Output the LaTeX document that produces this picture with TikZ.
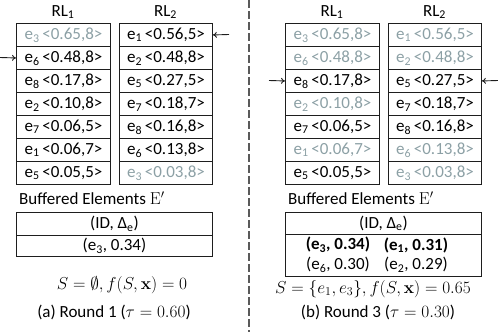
\documentclass[tikz,border=0pt]{standalone}
\usepackage[no-math]{fontspec}
\setmainfont{Carlito}
\usetikzlibrary{arrows.meta}
\definecolor{fade}{RGB}{140,160,165}
\definecolor{rulec}{RGB}{30,30,30}
\definecolor{sepc}{RGB}{90,90,90}
\newcommand\elm[2]{e\textsubscript{#1}\,<#2>}
\tikzset{
  txt/.style={font=\fontsize{17}{20}\selectfont, inner sep=0pt},
  mtxt/.style={font=\fontsize{18.5}{22}\selectfont, inner sep=0pt},
  cell/.style={txt, draw=rulec, line width=0.9pt, minimum width=94pt, minimum height=23pt, anchor=north west},
  cellb/.style={cell, minimum width=93pt},
  faded/.style={text=fade},
  ptr/.style={-{To[length=4pt,width=6pt]}, line width=0.9pt, rulec},
  sep/.style={sepc, line width=1.8pt, dash pattern=on 8pt off 3pt},
}
\begin{document}
\begin{tikzpicture}[x=1pt,y=-1pt]
\useasboundingbox (0,0) rectangle (498,332);
% ---------- left panel ----------
\node[txt] (hl1) at (63,12) {RL\textsubscript{1}};
\node[txt] (hl2) at (165.5,12) {RL\textsubscript{2}};
\node[cell,faded] (l11) at (16,23)  {\elm{3}{0.65,8}};
\node[cell] (l12) at (16,46)  {\elm{6}{0.48,8}};
\node[cell] (l13) at (16,69)  {\elm{8}{0.17,8}};
\node[cell] (l14) at (16,92)  {\elm{2}{0.10,8}};
\node[cell] (l15) at (16,115) {\elm{7}{0.06,5}};
\node[cell] (l16) at (16,138) {\elm{1}{0.06,7}};
\node[cell] (l17) at (16,161) {\elm{5}{0.05,5}};
\node[cellb] (l21) at (119,23)  {\elm{1}{0.56,5}};
\node[cellb] (l22) at (119,46)  {\elm{2}{0.48,8}};
\node[cellb] (l23) at (119,69)  {\elm{5}{0.27,5}};
\node[cellb] (l24) at (119,92)  {\elm{7}{0.18,7}};
\node[cellb] (l25) at (119,115) {\elm{8}{0.16,8}};
\node[cellb] (l26) at (119,138) {\elm{6}{0.13,8}};
\node[cellb,faded] (l27) at (119,161) {\elm{3}{0.03,8}};
\coordinate (la) at (0,57.5);
\coordinate (lb) at (229,34.5);
\draw[ptr] (la) -- (l12.west);
\draw[ptr] (lb) -- (l21.east);
\node[txt,anchor=west] (lbuf) at (19,198) {Buffered Elements $\mathrm{E}'$};
\node[cell,minimum width=196pt] (lt1) at (16,212) {(ID, Δ\textsubscript{e})};
\node[cell,minimum width=196pt,minimum height=21pt] (lt2) at (16,235) {(e\textsubscript{3}, 0.34)};
\node[mtxt] (ls) at (122,285) {$S=\emptyset, f(S,\mathbf{x})=0$};
\node[txt] (lc) at (114,312) {(a) Round 1 ($\tau=0.60$)};
% ---------- separator ----------
\coordinate (s1) at (249,0);
\coordinate (s2) at (249,332);
\draw[sep] (s1) -- (s2);
% ---------- right panel ----------
\node[txt] (hr1) at (332,12) {RL\textsubscript{1}};
\node[txt] (hr2) at (434.5,12) {RL\textsubscript{2}};
\node[cell,faded] (r11) at (285,23)  {\elm{3}{0.65,8}};
\node[cell,faded] (r12) at (285,46)  {\elm{6}{0.48,8}};
\node[cell] (r13) at (285,69)  {\elm{8}{0.17,8}};
\node[cell,faded] (r14) at (285,92)  {\elm{2}{0.10,8}};
\node[cell] (r15) at (285,115) {\elm{7}{0.06,5}};
\node[cell,faded] (r16) at (285,138) {\elm{1}{0.06,7}};
\node[cell] (r17) at (285,161) {\elm{5}{0.05,5}};
\node[cellb,faded] (r21) at (388,23)  {\elm{1}{0.56,5}};
\node[cellb,faded] (r22) at (388,46)  {\elm{2}{0.48,8}};
\node[cellb] (r23) at (388,69)  {\elm{5}{0.27,5}};
\node[cellb] (r24) at (388,92)  {\elm{7}{0.18,7}};
\node[cellb] (r25) at (388,115) {\elm{8}{0.16,8}};
\node[cellb,faded] (r26) at (388,138) {\elm{6}{0.13,8}};
\node[cellb,faded] (r27) at (388,161) {\elm{3}{0.03,8}};
\coordinate (ra) at (269,80.5);
\coordinate (rb) at (498,80.5);
\draw[ptr] (ra) -- (r13.west);
\draw[ptr] (rb) -- (r23.east);
\node[txt,anchor=west] (rbuf) at (288,198) {Buffered Elements $\mathrm{E}'$};
\node[cell,minimum width=196pt,minimum height=22pt] (rt1) at (285,212) {(ID, Δ\textsubscript{e})};
\node[cell,minimum width=196pt,minimum height=42pt] (rt2) at (285,234) {};
\node[txt,font=\fontsize{17}{20}\selectfont\bfseries] (rb1) at (338,245) {(e\textsubscript{3}, 0.34)};
\node[txt,font=\fontsize{17}{20}\selectfont\bfseries] (rb2) at (416,245) {(e\textsubscript{1}, 0.31)};
\node[txt] (rn1) at (338,265) {(e\textsubscript{6}, 0.30)};
\node[txt] (rn2) at (416,265) {(e\textsubscript{2}, 0.29)};
\node[mtxt] (rs) at (373,289) {$S=\{e_1,e_3\}, f(S,\mathbf{x})=0.65$};
\node[txt] (rc) at (378,312) {(b) Round 3 ($\tau=0.30$)};
\end{tikzpicture}
\end{document}
